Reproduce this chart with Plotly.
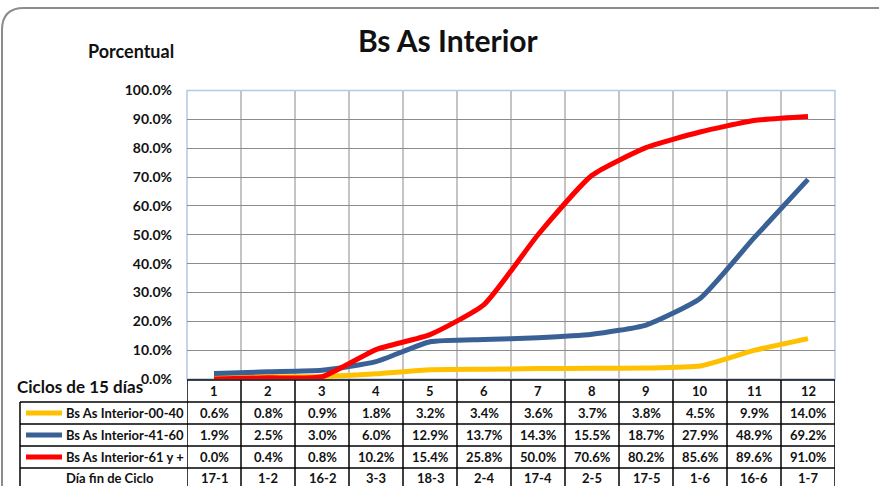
import plotly.graph_objects as go

# data (percent values per 15-day cycle)
cycles = list(range(1, 13))
series_names = ["Bs As Interior-00-40", "Bs As Interior-41-60", "Bs As Interior-61 y +"]
s_00_40 = [0.6, 0.8, 0.9, 1.8, 3.2, 3.4, 3.6, 3.7, 3.8, 4.5, 9.9, 14.0]
s_41_60 = [1.9, 2.5, 3.0, 6.0, 12.9, 13.7, 14.3, 15.5, 18.7, 27.9, 48.9, 69.2]
s_61_mas = [0.0, 0.4, 0.8, 10.2, 15.4, 25.8, 50.0, 70.6, 80.2, 85.6, 89.6, 91.0]
fin_ciclo = ["17-1", "1-2", "16-2", "3-3", "18-3", "2-4", "17-4", "2-5", "17-5", "1-6", "16-6", "1-7"]

COLORS = ["#FFC000", "#3A6196", "#FF0000"]
W, H = 879, 486
FONT = "Lato"
INK = "#111111"


def px(x):
    return x / W


def py(y):
    return 1 - y / H


# plot area in pixels
X0, X1 = 187, 835
Y_TOP, Y_BOT = 90.5, 379

fig = go.Figure()
for name, vals, col in zip(series_names, [s_00_40, s_41_60, s_61_mas], COLORS):
    fig.add_trace(go.Scatter(
        x=cycles, y=vals, name=name, mode="lines",
        line=dict(color=col, width=5, shape="spline", smoothing=0.5),
        hovertemplate="%{y:.1f}%<extra></extra>",
    ))

shapes = []
line_blk = dict(color="black", width=1.5)

# table rows (pixel y of horizontal rules)
row_lines = [380, 402, 424, 446, 468]
row_mid = [391, 413, 435, 457, 478]
shapes.append(dict(type="line", xref="paper", yref="paper",
                   x0=px(X0), x1=px(X1), y0=py(row_lines[0]), y1=py(row_lines[0]), line=line_blk))
for y in row_lines[1:]:
    shapes.append(dict(type="line", xref="paper", yref="paper",
                       x0=px(20), x1=px(X1), y0=py(y), y1=py(y), line=line_blk))
shapes.append(dict(type="line", xref="paper", yref="paper",
                   x0=px(20), x1=px(20), y0=py(row_lines[1]), y1=0, line=line_blk))
for k in range(13):
    xb = cycles[0] - 0.5 + k
    shapes.append(dict(type="line", xref="x", yref="paper",
                       x0=xb, x1=xb, y0=py(row_lines[0]), y1=0, line=line_blk))

# legend keys inside the table
for i, col in enumerate(COLORS):
    shapes.append(dict(type="line", xref="paper", yref="paper",
                       x0=px(26), x1=px(62), y0=py(row_mid[i + 1]), y1=py(row_mid[i + 1]),
                       line=dict(color=col, width=5)))

# plot border (light blue)
shapes.append(dict(type="rect", xref="paper", yref="paper",
                   x0=px(X0), x1=px(X1), y0=py(Y_BOT), y1=py(Y_TOP),
                   line=dict(color="#B4C8E4", width=1.5), layer="below"))

# outer chart frame with rounded top-left corner
r = 22
path = (f"M {px(2)},{py(H + 5)} L {px(2)},{py(8 + r)} "
        f"Q {px(2)},{py(8)} {px(2 + r)},{py(8)} L {px(W + 5)},{py(8)}")
shapes.append(dict(type="path", xref="paper", yref="paper", path=path,
                   line=dict(color="#8C8C8C", width=2)))


def label(x, y, text, size, xref="paper", xanchor="center"):
    return dict(x=x, y=py(y), xref=xref, yref="paper", text=text, showarrow=False,
                xanchor=xanchor, yanchor="middle",
                font=dict(family=FONT, size=size, color=INK, weight="bold"))


CELL = 13
ann = []
for c in cycles:
    ann.append(label(c, row_mid[0], str(c), CELL, xref="x"))
for i, vals in enumerate([s_00_40, s_41_60, s_61_mas]):
    for c, v in zip(cycles, vals):
        ann.append(label(c, row_mid[i + 1], f"{v:.1f}%", CELL, xref="x"))
for c, t in zip(cycles, fin_ciclo):
    ann.append(label(c, row_mid[4], t, CELL, xref="x"))
for i, name in enumerate(series_names):
    ann.append(label(px(64), row_mid[i + 1], name, CELL, xanchor="left"))
ann.append(label(px(64), row_mid[4], "Día fin de Ciclo", CELL, xanchor="left"))

ann.append(label(px(448), 40, "Bs As Interior", 30))
ann.append(label(px(131), 51, "Porcentual", 18))
ann.append(label(px(15), 386, "Ciclos de 15 días", 17, xanchor="left"))

fig.update_layout(
    width=W, height=H, margin=dict(l=0, r=0, t=0, b=0, autoexpand=False),
    paper_bgcolor="white", plot_bgcolor="white", showlegend=False,
    shapes=shapes, annotations=ann,
    xaxis=dict(domain=[px(X0), px(X1)], range=[0.5, 12.5], tick0=0.5, dtick=1,
               showgrid=True, gridcolor="#C4C4C4", gridwidth=1.5, automargin=False,
               showticklabels=False, ticks="", zeroline=False, fixedrange=True),
    yaxis=dict(domain=[py(Y_BOT), py(Y_TOP)], range=[0, 100], dtick=10, automargin=False,
               tickformat=".1f", ticksuffix="%", showgrid=True, gridcolor="#8C8C8C",
               gridwidth=1, zeroline=False, ticks="", ticklabelstandoff=14,
               tickfont=dict(family=FONT, size=14, color=INK, weight="bold"), fixedrange=True),
)

# drop the browser's default body margin so the figure sits at the page origin
fig.write_html("out.html", config={"displayModeBar": False},
               post_script="document.body.style.margin='0px';")
